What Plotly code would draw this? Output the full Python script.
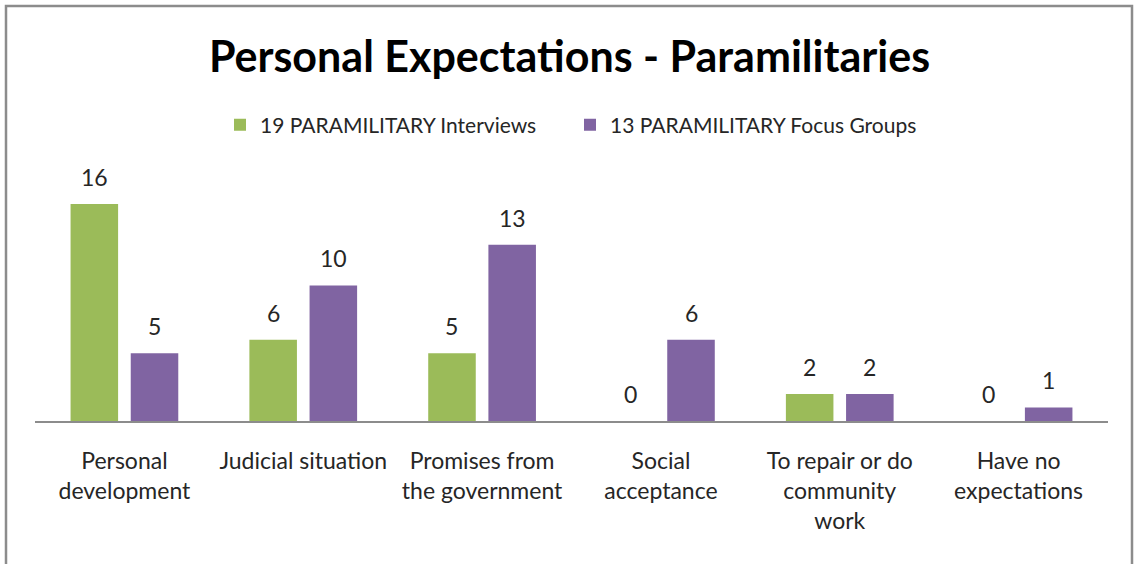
import plotly.graph_objects as go

categories = ["Personal<br>development", "Judicial situation", "Promises from<br>the government",
              "Social<br>acceptance", "To repair or do<br>community<br>work", "Have no<br>expectations"]
interviews = [16, 6, 5, 0, 2, 0]
focus_groups = [5, 10, 13, 6, 2, 1]
series_names = ["19 PARAMILITARY Interviews", "13 PARAMILITARY Focus Groups"]
colors = ["#9BBB59", "#8064A2"]

W, H = 1139, 564
L, R, T, B = 35, 31, 177, 143
pw, ph = W - L - R, H - T - B
BARGAP, GROUPGAP = 0.327, 0.21
FONT = "Lato"
TXT = "#262626"

fig = go.Figure()
for name, vals, c in zip(series_names, [interviews, focus_groups], colors):
    fig.add_trace(go.Bar(
        x=categories, y=vals, name=name, marker=dict(color=c, line=dict(width=0)),
    ))

# data labels placed above each bar
slot = pw / len(categories) * (1 - BARGAP) / 2
annotations = []
for k, vals in enumerate([interviews, focus_groups]):
    shift = (k - 0.5) * slot
    for cat, v in zip(categories, vals):
        annotations.append(dict(x=cat, y=v, xref="x", yref="y", text=str(v), showarrow=False,
                                xshift=shift, yshift=11, yanchor="bottom",
                                font=dict(family=FONT, size=23, color=TXT)))

def px(x):
    return (x - L) / pw

def py(y):
    return (H - B - y) / ph

fig.update_layout(
    width=W, height=H,
    margin=dict(l=L, r=R, t=T, b=B),
    paper_bgcolor="white", plot_bgcolor="white",
    barmode="group", bargap=BARGAP, bargroupgap=GROUPGAP,
    title=dict(text="<b>Personal Expectations - Paramilitaries</b>", x=0.5, xanchor="center",
               y=1 - 57 / H, yanchor="middle",
               font=dict(family=FONT, size=43, color="black")),
    legend=dict(orientation="h", x=px(220), xanchor="left", y=py(125), yanchor="middle",
                font=dict(family=FONT, size=21, color=TXT), itemwidth=30,
                entrywidth=305, entrywidthmode="pixels",
                traceorder="normal"),
    xaxis=dict(showline=True, linecolor="#8c8c8c", linewidth=1.5, ticks="",
               tickfont=dict(family=FONT, size=23, color=TXT), ticklabelstandoff=19),
    yaxis=dict(range=[0, 18], visible=False, showgrid=False),
    annotations=annotations,
    shapes=[dict(type="rect", xref="paper", yref="paper",
                 x0=px(6), x1=px(1132), y0=py(6), y1=py(600),
                 line=dict(color="#8c8c8c", width=2.5), fillcolor="rgba(0,0,0,0)")],
)

fig.write_html("out.html", config={"displayModeBar": False},
               post_script="document.body.style.margin='0';")
